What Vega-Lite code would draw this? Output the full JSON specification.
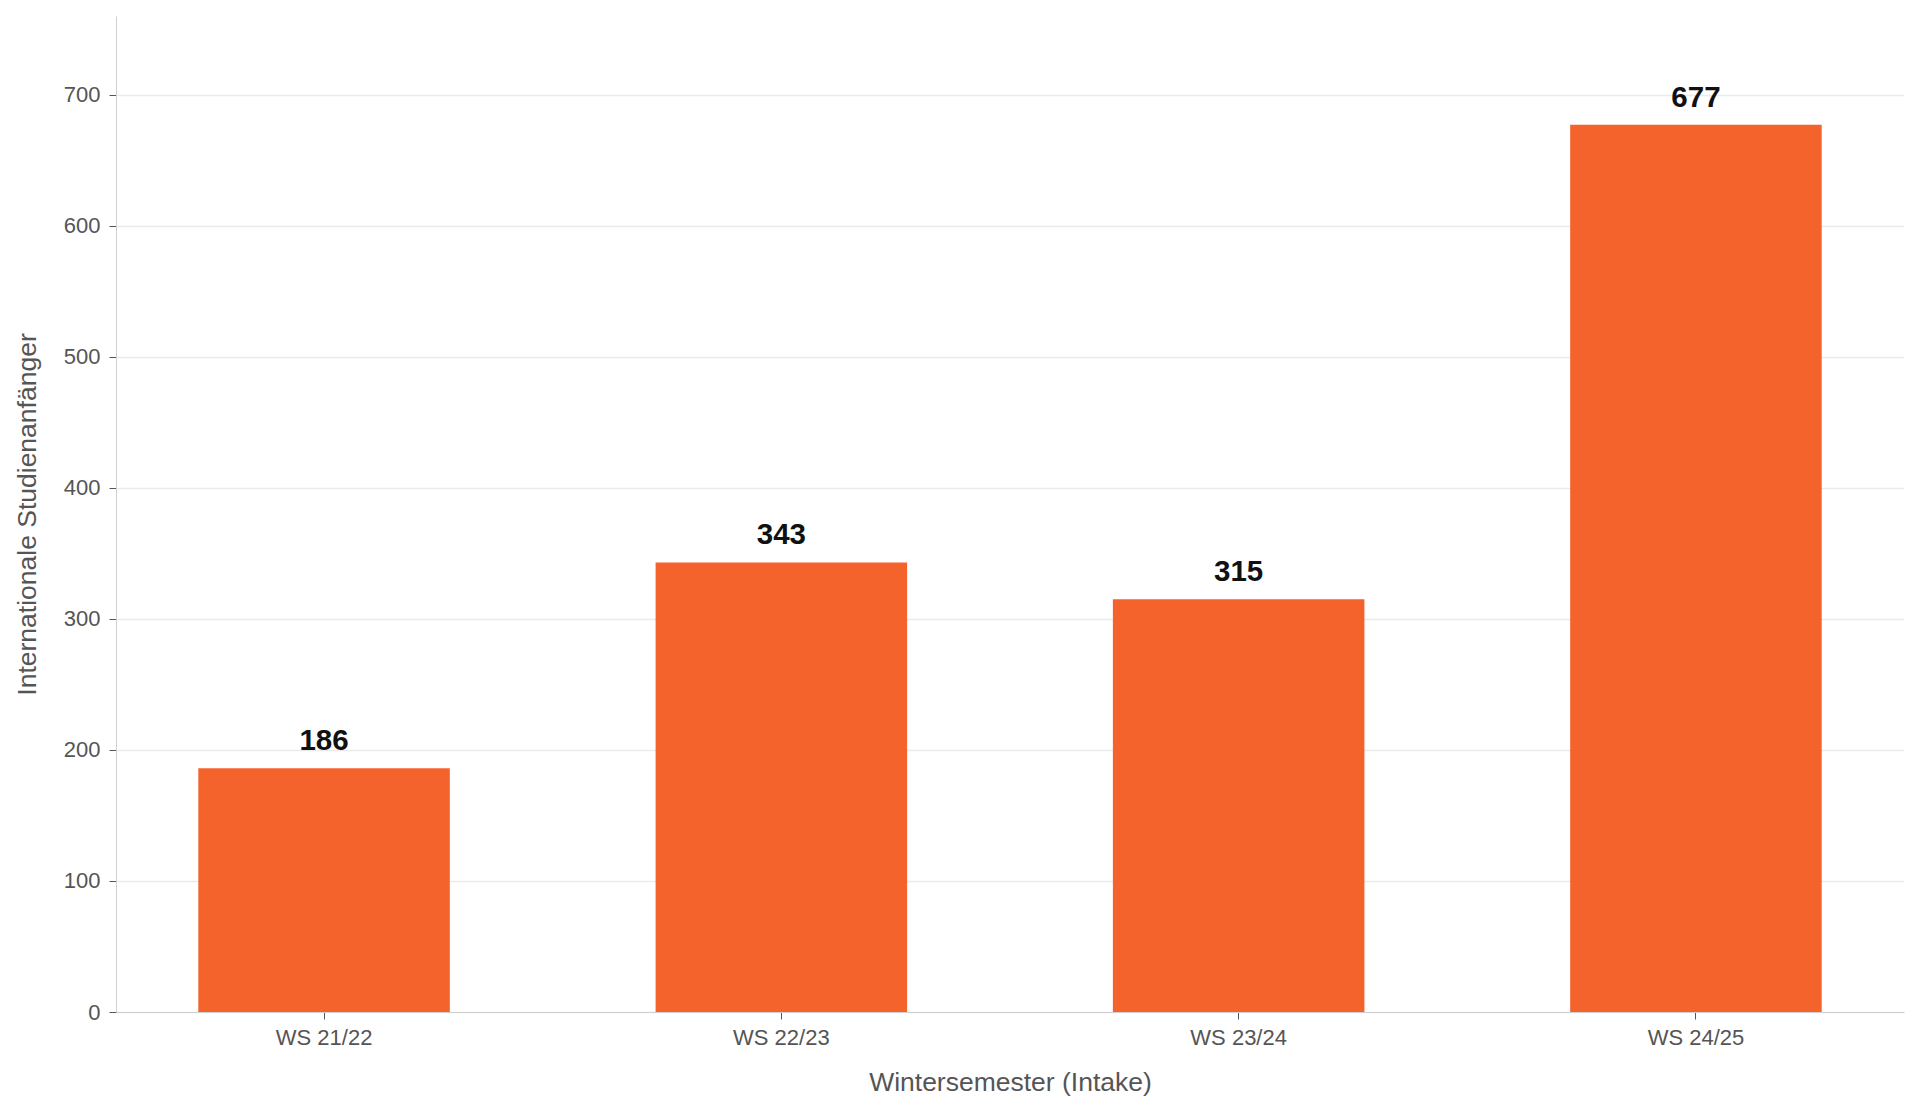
{
  "$schema": "https://vega.github.io/schema/vega-lite/v6.json",
  "autosize": {"type": "none"},
  "padding": {"left": 116, "top": 16, "right": 16, "bottom": 101},
  "width": 1788,
  "height": 996,
  "background": "white",
  "config": {
    "font": "Liberation Sans",
    "view": {"stroke": null},
    "axis": {
      "labelFont": "Liberation Sans",
      "titleFont": "Liberation Sans",
      "labelColor": "#555555",
      "titleColor": "#555555",
      "labelFontSize": 22,
      "titleFontSize": 26.5,
      "titleFontWeight": "normal",
      "domainColor": "#d0d0d0",
      "tickColor": "#555555",
      "tickSize": 7,
      "gridColor": "#ebebeb",
      "gridWidth": 1.5
    }
  },
  "data": {
    "values": [
      {"semester": "WS 21/22", "count": 186},
      {"semester": "WS 22/23", "count": 343},
      {"semester": "WS 23/24", "count": 315},
      {"semester": "WS 24/25", "count": 677}
    ]
  },
  "encoding": {
    "x": {
      "field": "semester",
      "type": "nominal",
      "sort": null,
      "scale": {"paddingInner": 0.45, "paddingOuter": 0.18},
      "axis": {
        "title": "Wintersemester (Intake)",
        "labelAngle": 0,
        "labelPadding": 8.5,
        "grid": false,
        "titleY": 70,
        "titleBaseline": "middle"
      }
    },
    "y": {
      "field": "count",
      "type": "quantitative",
      "scale": {"domain": [0, 760], "nice": false},
      "axis": {
        "title": "Internationale Studienanfänger",
        "values": [0, 100, 200, 300, 400, 500, 600, 700],
        "labelPadding": 9,
        "grid": true,
        "titleX": -89,
        "titleBaseline": "middle"
      }
    }
  },
  "layer": [
    {"mark": {"type": "bar", "color": "#F4632B"}},
    {
      "mark": {
        "type": "text",
        "baseline": "alphabetic",
        "dy": -18,
        "fontSize": 29.5,
        "fontWeight": "bold",
        "color": "#111111"
      },
      "encoding": {"text": {"field": "count", "type": "quantitative"}}
    }
  ]
}
